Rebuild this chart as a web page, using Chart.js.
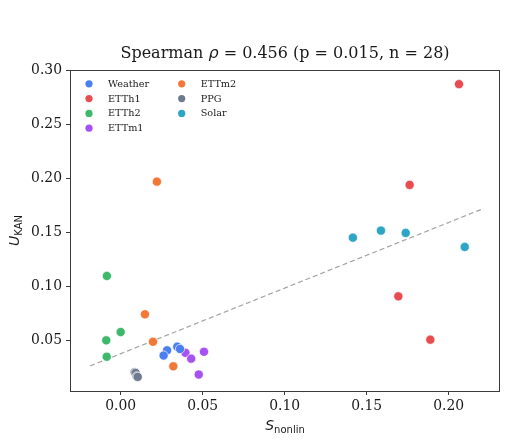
<!DOCTYPE html>
<html>
<head>
<meta charset="utf-8">
<script src="https://cdn.jsdelivr.net/npm/chart.js@4.4.1/dist/chart.umd.min.js"></script>
<style>
  html, body { margin: 0; padding: 0; background: #ffffff; }
  #wrap { width: 508px; height: 441px; }
</style>
</head>
<body>
<div id="wrap"><canvas id="c" width="508" height="441"></canvas></div>
<script>
// ---- data ----
const groupNames = ['Weather', 'ETTh1', 'ETTh2', 'ETTm1', 'ETTm2', 'PPG', 'Solar'];
const groupColors = ['#4a7ff0', '#e84c4f', '#3db86c', '#a652f2', '#f27838', '#6e7b8e', '#2fa5c6'];

const weatherX = [0.0283, 0.0262, 0.0345, 0.0362];
const weatherY = [0.0404, 0.0356, 0.0438, 0.0417];
const etth1X = [0.2063, 0.1762, 0.1693, 0.1888];
const etth1Y = [0.2872, 0.1938, 0.0905, 0.0503];
const etth2X = [-0.0084, 0.0000, -0.0088, -0.0085];
const etth2Y = [0.1094, 0.0574, 0.0497, 0.0345];
const ettm1X = [0.0395, 0.0430, 0.0508, 0.0476];
const ettm1Y = [0.0381, 0.0327, 0.0391, 0.0180];
const ettm2X = [0.0221, 0.0148, 0.0197, 0.0321];
const ettm2Y = [0.1968, 0.0738, 0.0484, 0.0256];
const ppgX = [0.0085, 0.0091, 0.0098, 0.0104];
const ppgY = [0.0201, 0.0195, 0.0163, 0.0158];
const solarX = [0.1416, 0.1587, 0.1738, 0.2098];
const solarY = [0.1449, 0.1514, 0.1493, 0.1363];

const fitX = [-0.0187, 0.2201];
const fitY = [0.0259, 0.1712];

const xTicks = [0.00, 0.05, 0.10, 0.15, 0.20];
const yTicks = [0.05, 0.10, 0.15, 0.20, 0.25, 0.30];

const titleParts = ['Spearman ', 'ρ', ' = 0.456 (p = 0.015, n = 28)'];

// ---- build ----
const groupX = [weatherX, etth1X, etth2X, ettm1X, ettm2X, ppgX, solarX];
const groupY = [weatherY, etth1Y, etth2Y, ettm1Y, ettm2Y, ppgY, solarY];
const pts = (xs, ys) => xs.map((x, i) => ({ x: x, y: ys[i] }));

const datasets = groupNames.map((name, g) => ({
  type: 'scatter',
  label: name,
  data: pts(groupX[g], groupY[g]),
  backgroundColor: groupColors[g],
  borderColor: 'rgba(255,255,255,0.85)',
  borderWidth: 0.8,
  pointRadius: 4.6,
  pointHoverRadius: 4.6,
  order: 1
}));
datasets.push({
  type: 'line',
  label: 'fit',
  data: pts(fitX, fitY),
  borderColor: '#a3a3a3',
  borderWidth: 1.2,
  borderDash: [5, 3],
  pointRadius: 0,
  fill: false,
  order: 10
});

const SERIF = '"DejaVu Serif", serif';
const SANS = '"DejaVu Sans", sans-serif';

const decor = {
  id: 'decor',
  afterDraw(chart) {
    const ctx = chart.ctx;
    const a = chart.chartArea;
    ctx.save();
    // frame
    ctx.strokeStyle = '#3a3a3a';
    ctx.lineWidth = 1;
    ctx.strokeRect(Math.round(a.left) + 0.5, Math.round(a.top) + 0.5,
                   Math.round(a.right - a.left) - 1, Math.round(a.bottom - a.top));

    // title
    ctx.fillStyle = '#1a1a1a';
    ctx.textBaseline = 'alphabetic';
    const f1 = '16px ' + SERIF;
    const f2 = 'italic 16px ' + SANS;
    ctx.font = f1; const w1 = ctx.measureText(titleParts[0]).width;
    ctx.font = f2; const w2 = ctx.measureText(titleParts[1]).width;
    ctx.font = f1; const w3 = ctx.measureText(titleParts[2]).width;
    let tx = (a.left + a.right) / 2 - (w1 + w2 + w3) / 2;
    const ty = 58;
    ctx.textAlign = 'left';
    ctx.font = f1; ctx.fillText(titleParts[0], tx, ty); tx += w1;
    ctx.font = f2; ctx.fillText(titleParts[1], tx, ty); tx += w2;
    ctx.font = f1; ctx.fillText(titleParts[2], tx, ty);

    // x axis label  S_nonlin
    const fm = 'italic 14px ' + SANS;
    const fs = '10px ' + SANS;
    ctx.font = fm; const sw = ctx.measureText('S').width;
    ctx.font = fs; const subw = ctx.measureText('nonlin').width;
    let lx = (a.left + a.right) / 2 - (sw + subw) / 2;
    ctx.font = fm; ctx.fillText('S', lx, 430);
    ctx.font = fs; ctx.fillText('nonlin', lx + sw, 433);

    // y axis label  U_KAN
    ctx.save();
    ctx.translate(19, (a.top + a.bottom) / 2);
    ctx.rotate(-Math.PI / 2);
    ctx.font = fm; const uw = ctx.measureText('U').width;
    ctx.font = fs; const kw = ctx.measureText('KAN').width;
    let ux = -(uw + kw) / 2;
    ctx.font = fm; ctx.fillText('U', ux, 0);
    ctx.font = fs; ctx.fillText('KAN', ux + uw, 3);
    ctx.restore();

    // legend
    const legendFont = '9.7px ' + SERIF;
    ctx.font = legendFont;
    ctx.textBaseline = 'middle';
    const colX = [a.left + 19, a.left + 111.7];
    const rowY0 = a.top + 13.8;
    const rowH = 14.8;
    groupNames.forEach((name, g) => {
      const col = g < 4 ? 0 : 1;
      const row = g < 4 ? g : g - 4;
      const cx = colX[col];
      const cy = rowY0 + row * rowH;
      ctx.beginPath();
      ctx.arc(cx, cy, 3.6, 0, Math.PI * 2);
      ctx.fillStyle = groupColors[g];
      ctx.fill();
      ctx.fillStyle = '#1a1a1a';
      ctx.fillText(name, cx + 19, cy + 0.5);
    });
    ctx.restore();
  }
};

new Chart(document.getElementById('c'), {
  data: { datasets: datasets },
  options: {
    responsive: false,
    animation: false,
    events: [],
    layout: { autoPadding: false, padding: { left: 0, right: 8, top: 70, bottom: 0 } },
    plugins: { legend: { display: false }, title: { display: false }, tooltip: { enabled: false } },
    scales: {
      x: {
        type: 'linear',
        min: -0.0309,
        max: 0.2313,
        afterBuildTicks: (s) => { s.ticks = xTicks.map(v => ({ value: v })); },
        afterFit: (s) => { s.height = 50; },
        border: { display: false },
        grid: { display: true, drawOnChartArea: false, drawTicks: true, tickLength: 4, tickWidth: 1, tickColor: '#3a3a3a' },
        ticks: {
          padding: 3,
          color: '#1a1a1a',
          font: { family: SERIF, size: 13.9 },
          maxRotation: 0,
          callback: (v) => Number(v).toFixed(2)
        }
      },
      y: {
        type: 'linear',
        min: 0.00273,
        max: 0.3003,
        afterBuildTicks: (s) => { s.ticks = yTicks.map(v => ({ value: v })); },
        afterFit: (s) => { s.width = 70; },
        border: { display: false },
        grid: { display: true, drawOnChartArea: false, drawTicks: true, tickLength: 4, tickWidth: 1, tickColor: '#3a3a3a' },
        ticks: {
          padding: 4,
          color: '#1a1a1a',
          font: { family: SERIF, size: 13.9 },
          callback: (v) => Number(v).toFixed(2)
        }
      }
    }
  },
  plugins: [decor]
});
</script>
</body>
</html>
